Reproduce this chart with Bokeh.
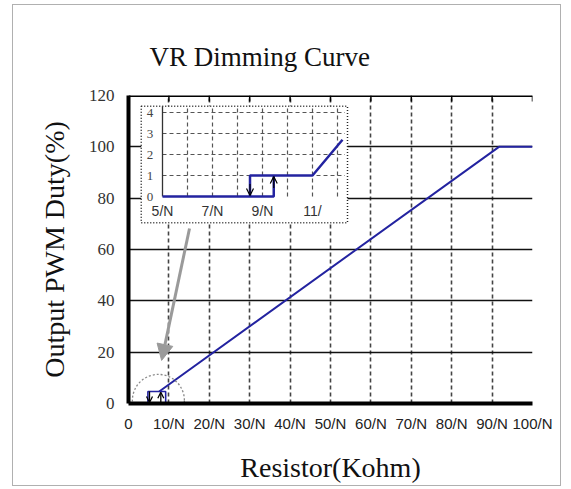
from bokeh.plotting import figure
from bokeh.models import FixedTicker, Range1d, Arrow, NormalHead, OpenHead, Span
from bokeh.embed import file_html
from bokeh.resources import INLINE
from bokeh.core.properties import value

# ---------------- data ----------------
title_text = "VR Dimming Curve"
x_label = "Resistor(Kohm)"
y_label = "Output PWM Duty(%)"

x_ticks = [0, 10, 20, 30, 40, 50, 60, 70, 80, 90, 100]
x_tick_labels = ["0", "10/N", "20/N", "30/N", "40/N", "50/N", "60/N", "70/N", "80/N", "90/N", "100/N"]
x_grid = [10, 20, 30, 40, 50, 60, 70, 80, 90, 100]
y_ticks = [0, 20, 40, 60, 80, 100, 120]
y_grid = [20, 40, 60, 80, 100]
y_top = 120

# main curve (schematic, Resistor vs duty %)
base_x = [0, 9.2]
base_y = [0, 0]
step_x = [4.8, 4.8, 9.2, 9.2]
step_y = [0, 4.7, 4.7, 0]
rise_x = [7.6, 91.7, 100]
rise_y = [4.7, 100, 100]
drop_arrow_x = [5.2]
rise_arrow_x = [8.0]

# zoom marker
zoom_x = [7.4]
zoom_y = [1.2]
pointer_from = (15.1, 68.2)
pointer_to = (8.2, 16.8)

# inset (zoomed 5/N .. 12/N, duty 0..4 %)
inset_x_ticks = [5, 7, 9, 11]
inset_x_labels = ["5/N", "7/N", "9/N", "11/"]
inset_y_ticks = [0, 1, 2, 3, 4]
inset_y_labels = ["0", "1", "2", "3", "4"]
inset_grid_x = [6, 7, 8, 9, 10, 11, 12]
inset_grid_y = [1, 2, 3, 4]
inset_curve_x = [5, 9.45, 9.45, 11, 12.2]
inset_curve_y = [0, 0, 1, 1, 2.7]
inset_drop_x = [8.5, 8.5, 9.45]
inset_drop_y = [0, 1, 1]

# ---------------- layout ----------------
W, H = 549, 482
ML, MR, MT, MB = 115, 30, 90, 84
FW, FH = W - ML - MR, H - MT - MB

p = figure(width=W, height=H, output_backend="svg", toolbar_location=None,
           x_range=Range1d(0, 100), y_range=Range1d(0, 120),
           min_border_left=ML, min_border_right=MR, min_border_top=MT, min_border_bottom=MB)
p.styles = {"border": "1px solid #b0b0b0", "margin-left": "12px", "margin-top": "4px"}
p.outline_line_color = None
p.background_fill_color = "white"
p.border_fill_color = "white"

# inset mapping (pixels inside frame)
IPX, IPY = 25.0, 21.0          # px per inset unit
IX0, IY0 = 34.0, 207.0         # px offsets of inset origin (5, 0) from frame left/bottom
ix_start = 5 - IX0 / IPX
iy_start = 0 - IY0 / IPY
p.extra_x_ranges = {"ix": Range1d(ix_start, ix_start + FW / IPX)}
p.extra_y_ranges = {"iy": Range1d(iy_start, iy_start + FH / IPY)}

# title
p.title.text = title_text
p.title.text_font = "Liberation Serif"
p.title.text_font_size = "27px"
p.title.text_font_style = "normal"
p.title.text_color = "#111111"
p.title.align = "left"
p.title.offset = 21
p.title.standoff = 48

# axes
xa = p.xaxis[0]
xa.ticker = FixedTicker(ticks=x_ticks)
xa.major_label_overrides = {t: l for t, l in zip(x_ticks, x_tick_labels)}
xa.major_label_text_font = "Liberation Sans"
xa.major_label_text_font_size = "15px"
xa.major_label_text_color = "#222222"
xa.major_label_standoff = 11
xa.major_tick_out = 0
xa.major_tick_in = 0
xa.minor_tick_out = 0
xa.axis_line_width = 4
xa.axis_line_color = "black"
xa.axis_label = x_label
xa.axis_label_text_font = "Liberation Serif"
xa.axis_label_text_font_size = "28px"
xa.axis_label_text_font_style = "normal"
xa.axis_label_text_color = "#111111"
xa.axis_label_standoff = 17

ya = p.yaxis[0]
ya.ticker = FixedTicker(ticks=y_ticks)
ya.major_label_text_font = "Liberation Serif"
ya.major_label_text_font_size = "17px"
ya.major_label_text_color = "#333333"
ya.major_label_standoff = 14
ya.major_tick_out = 0
ya.major_tick_in = 0
ya.minor_tick_out = 0
ya.axis_line_width = 4
ya.axis_line_color = "black"
ya.axis_label = y_label
ya.axis_label_text_font = "Liberation Serif"
ya.axis_label_text_font_size = "28px"
ya.axis_label_text_font_style = "normal"
ya.axis_label_text_color = "#111111"
ya.axis_label_standoff = 16

# grids
p.xgrid.ticker = FixedTicker(ticks=x_grid)
p.xgrid.grid_line_color = "#444444"
p.xgrid.grid_line_dash = "4 3"
p.xgrid.grid_line_width = 1.6
p.ygrid.ticker = FixedTicker(ticks=y_grid)
p.ygrid.grid_line_color = "#111111"
p.ygrid.grid_line_width = 1.6

# top border with short inward ticks
p.add_layout(Span(location=y_top, dimension="width", line_color="black", line_width=3))
p.segment(x0=x_grid, y0=[y_top] * len(x_grid), x1=x_grid, y1=[y_top - 2.3] * len(x_grid),
          line_color="black", line_width=1.5)

BLUE = "#2323a0"

# main curve
p.line(base_x, base_y, line_color=BLUE, line_width=2.5)
p.line(step_x, step_y, line_color=BLUE, line_width=1.6)
p.line(rise_x, rise_y, line_color=BLUE, line_width=2)
for xv in drop_arrow_x:
    p.add_layout(Arrow(x_start=xv, y_start=step_y[1], x_end=xv, y_end=0.4, line_color="black",
                       line_width=1.3, end=OpenHead(size=6, line_color="black", line_width=1.3)))
for xv in rise_arrow_x:
    p.add_layout(Arrow(x_start=xv, y_start=0, x_end=xv, y_end=step_y[1] - 0.3, line_color="black",
                       line_width=1.3, end=OpenHead(size=6, line_color="black", line_width=1.3)))

# zoom marker circle + pointer
p.scatter(zoom_x, zoom_y, marker="circle", size=52, fill_color=None,
          line_color="#8a8a8a", line_dash="2 2", line_width=1.3)
p.add_layout(Arrow(x_start=pointer_from[0], y_start=pointer_from[1],
                   x_end=pointer_to[0], y_end=pointer_to[1],
                   line_color="#9a9a9a", line_width=3,
                   end=NormalHead(size=16, fill_color="#9a9a9a", line_color="#9a9a9a")))

# ---------------- inset ----------------
R = dict(x_range_name="ix", y_range_name="iy")
box_l, box_r, box_b, box_t = 4.15, 12.4, -1.25, 4.3
p.quad(left=[box_l], right=[box_r], bottom=[box_b], top=[box_t], fill_color="white",
       line_color="#222222", line_dash="1 2", line_width=1.5, **R)
p.segment(x0=inset_grid_x, y0=[0] * len(inset_grid_x), x1=inset_grid_x,
          y1=[box_t] * len(inset_grid_x), line_color="#555555", line_dash="4 3", line_width=1.2, **R)
p.segment(x0=[5] * len(inset_grid_y), y0=inset_grid_y, x1=[12.3] * len(inset_grid_y),
          y1=inset_grid_y, line_color="#555555", line_dash="4 3", line_width=1.2, **R)
p.segment(x0=[5], y0=[0], x1=[5], y1=[box_t], line_color="#333333", line_width=1.3, **R)
p.line(inset_curve_x, inset_curve_y, line_color=BLUE, line_width=2.5, **R)
p.line(inset_drop_x, inset_drop_y, line_color=BLUE, line_width=2.5, **R)
p.add_layout(Arrow(x_start=8.5, y_start=0.6, x_end=8.5, y_end=0.05, line_color="black", line_width=1.2,
                   end=OpenHead(size=7, line_color="black", line_width=1.2), **R))
p.add_layout(Arrow(x_start=9.45, y_start=0.4, x_end=9.45, y_end=0.95, line_color="black", line_width=1.2,
                   end=OpenHead(size=7, line_color="black", line_width=1.2), **R))
p.text(x=[4.5] * len(inset_y_ticks), y=inset_y_ticks, text=inset_y_labels,
       text_font=value("Liberation Serif"), text_font_size="13px", text_color="#444444",
       text_align="center", text_baseline="middle", **R)
p.text(x=inset_x_ticks, y=[-0.68] * len(inset_x_ticks), text=inset_x_labels,
       text_font=value("Liberation Sans"), text_font_size="14px", text_color="#333333",
       text_align="center", text_baseline="middle", **R)

open("out.html", "w").write(file_html(p, INLINE))
